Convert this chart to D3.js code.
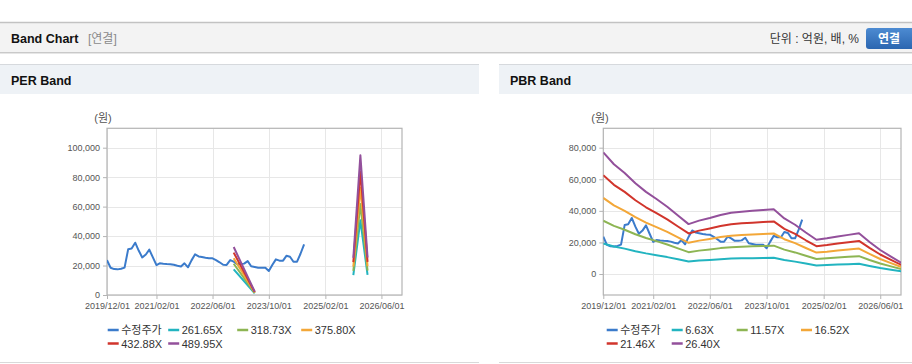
<!DOCTYPE html>
<html>
<head>
<meta charset="utf-8">
<script src="https://cdn.jsdelivr.net/npm/d3@7"></script>
<style>
  body { margin: 0; background: #fff; }
  svg { display: block; font-family: "Liberation Sans", Arial, "Noto Sans CJK KR", sans-serif; }
</style>
</head>
<body>
<div id="chart"></div>
<script>
// ---- data ----
const xTickLabels = ["2019/12/01", "2021/02/01", "2022/06/01", "2023/10/01", "2025/02/01", "2026/06/01"];

// monthly adjusted price (수정주가), 2019/12 .. 2024/08
const priceStart = "2019/12/01";
const priceValues = [23700, 18500, 17600, 17400, 17800, 18600, 31000, 31500, 35500, 30000,
  25500, 27500, 30800, 25500, 20300, 21500, 21200, 21000, 20900, 20500,
  19800, 19300, 21500, 18800, 23500, 27600, 26200, 25800, 25300, 25000,
  24900, 23700, 22200, 20500, 20400, 23700, 22600, 21000, 21000, 21300,
  23000, 19500, 19000, 18500, 18500, 18500, 16300, 20500, 24200, 23300,
  23300, 26600, 26000, 22600, 22600, 28000, 34400];

// PER band: EPS (null = no band)
const epsDates = ["2022/12/01", "2023/06/01", "2024/08/01", "2025/10/01", "2025/12/01", "2026/02/01"];
const epsValues = [66.5, 4.6, null, 51.5, 193.7, 52];
const perMultiples = [261.65, 318.73, 375.80, 432.88, 489.95];

// PBR band: quarterly BPS, 2019/12 .. 2026/12
const bpsValues = [2917, 2633, 2424, 2178, 1970, 1799, 1614, 1402, 1197, 1280,
  1345, 1417, 1470, 1496, 1515, 1538, 1553, 1333, 1182, 996,
  822, 856, 902, 939, 977, 769, 576, 417, 265];
const pbrMultiples = [6.63, 11.57, 16.52, 21.46, 26.40];

const perTicks = [0, 20000, 40000, 60000, 80000, 100000];
const pbrTicks = [0, 20000, 40000, 60000, 80000];

const priceColor = "#3b7bcb";
const bandColors = ["#22b4c0", "#8db553", "#f3a738", "#d1352c", "#93509b"];

// ---- setup ----
const parse = d3.timeParse("%Y/%m/%d");
const W = 912, H = 364;
const svg = d3.select("#chart").append("svg").attr("width", W).attr("height", H);

const priceDates = d3.timeMonth.range(parse(priceStart), d3.timeMonth.offset(parse(priceStart), priceValues.length));
const bpsDates = d3.timeMonth.range(parse(priceStart), d3.timeMonth.offset(parse(priceStart), bpsValues.length * 3), 3);
const xTicks = xTickLabels.map(parse);

// ---- page header ----
const defs = svg.append("defs");
const grad = defs.append("linearGradient").attr("id", "btn").attr("x1", 0).attr("y1", 0).attr("x2", 0).attr("y2", 1);
grad.append("stop").attr("offset", "0%").attr("stop-color", "#4d8bd2");
grad.append("stop").attr("offset", "100%").attr("stop-color", "#2b66b0");

svg.append("rect").attr("x", 0).attr("y", 22).attr("width", W).attr("height", 31).attr("fill", "#f3f3f3");
svg.append("line").attr("x1", 0).attr("x2", W).attr("y1", 22.5).attr("y2", 22.5).attr("stroke", "#c2c2c2").attr("stroke-width", 1.5);
svg.append("line").attr("x1", 0).attr("x2", W).attr("y1", 52.5).attr("y2", 52.5).attr("stroke", "#c9c9c9");
svg.append("line").attr("x1", 0).attr("x2", W).attr("y1", 53.5).attr("y2", 53.5).attr("stroke", "#e6e6e6");

svg.append("text").attr("x", 11).attr("y", 42.5).attr("font-size", "12.5px").attr("font-weight", "bold").attr("fill", "#111").text("Band Chart");
svg.append("text").attr("x", 88).attr("y", 42.5).attr("font-size", "12px").attr("fill", "#8a8a8a").text("[연결]");
svg.append("text").attr("x", 859).attr("y", 42.5).attr("font-size", "12px").attr("fill", "#333").attr("text-anchor", "end").text("단위 : 억원, 배, %");
svg.append("rect").attr("x", 866).attr("y", 28).attr("width", 52).attr("height", 21).attr("rx", 3).attr("fill", "url(#btn)");
svg.append("text").attr("x", 889).attr("y", 42.5).attr("font-size", "12px").attr("font-weight", "bold").attr("fill", "#fff").attr("text-anchor", "middle").text("연결");

// ---- panels ----
const panels = [
  { x: 0, w: 479, title: "PER Band" },
  { x: 499, w: 413, title: "PBR Band" }
];
panels.forEach(p => {
  svg.append("rect").attr("x", p.x).attr("y", 64).attr("width", p.w).attr("height", 30).attr("fill", "#eef2f6");
  svg.append("line").attr("x1", p.x).attr("x2", p.x + p.w).attr("y1", 64.5).attr("y2", 64.5).attr("stroke", "#d6d9dd");
  svg.append("line").attr("x1", p.x).attr("x2", p.x + p.w).attr("y1", 362.5).attr("y2", 362.5).attr("stroke", "#d9d9d9");
  svg.append("text").attr("x", p.x + 11).attr("y", 84.5).attr("font-size", "12.5px").attr("font-weight", "bold").attr("fill", "#111").text(p.title);
});

// ---- chart ----
function drawChart(cfg) {
  const x = d3.scaleTime().domain([parse("2019/12/01"), parse("2026/11/26")]).range([cfg.left, cfg.right]);
  const y = d3.scaleLinear().domain(cfg.yDomain).range([295, 128.3]);
  const g = svg.append("g");

  const clipId = "clip" + cfg.id;
  defs.append("clipPath").attr("id", clipId).append("rect")
    .attr("x", cfg.left).attr("y", 128.3).attr("width", cfg.right - cfg.left).attr("height", 295 - 128.3);

  // grid
  g.selectAll(".hg").data(cfg.yTicks).join("line")
    .attr("x1", cfg.left).attr("x2", cfg.right)
    .attr("y1", d => Math.round(y(d)) + 0.5).attr("y2", d => Math.round(y(d)) + 0.5)
    .attr("stroke", "#e7e7e7");
  g.selectAll(".vg").data(xTicks).join("line")
    .attr("x1", d => Math.round(x(d)) + 0.5).attr("x2", d => Math.round(x(d)) + 0.5)
    .attr("y1", 128.3).attr("y2", 295)
    .attr("stroke", "#e7e7e7");

  // axes
  const yAxis = g.append("g").attr("transform", `translate(${cfg.left},0)`)
    .call(d3.axisLeft(y).tickValues(cfg.yTicks).tickSize(4).tickPadding(3).tickFormat(d3.format(",")));
  const xAxis = g.append("g").attr("transform", "translate(0,295)")
    .call(d3.axisBottom(x).tickValues(xTicks).tickSize(4).tickPadding(4).tickFormat(d3.timeFormat("%Y/%m/%d")));
  [xAxis, yAxis].forEach(a => {
    a.select(".domain").remove();
    a.selectAll("line").attr("stroke", "#b4b4b4");
    a.selectAll("text").attr("fill", "#555").attr("font-size", "9px").attr("font-family", "Liberation Sans, Arial, sans-serif");
  });

  // frame
  g.append("rect").attr("x", cfg.left).attr("y", 128.3).attr("width", cfg.right - cfg.left).attr("height", 295 - 128.3)
    .attr("fill", "none").attr("stroke", "#b4b4b4").attr("stroke-width", 1.2);

  g.append("text").attr("x", cfg.unitX).attr("y", 122).attr("font-size", "11px").attr("fill", "#555")
    .attr("text-anchor", "middle").text("(원)");

  const plot = g.append("g").attr("clip-path", `url(#${clipId})`);
  const line = d3.line().defined(d => d[1] != null).x(d => x(d[0])).y(d => y(d[1]));

  plot.append("path").datum(priceDates.map((d, i) => [d, priceValues[i]]))
    .attr("d", line).attr("fill", "none").attr("stroke", priceColor).attr("stroke-width", 2).attr("stroke-linejoin", "round");

  cfg.multiples.forEach((m, k) => {
    plot.append("path").datum(cfg.baseDates.map((d, i) => [d, cfg.baseValues[i] == null ? null : cfg.baseValues[i] * m]))
      .attr("d", line).attr("fill", "none").attr("stroke", bandColors[k]).attr("stroke-width", 2).attr("stroke-linejoin", "round");
  });

  // legend
  const items = [{ label: "수정주가", color: priceColor }]
    .concat(cfg.multiples.map((m, k) => ({ label: m.toFixed(2) + "X", color: bandColors[k] })));
  items.forEach((it, i) => {
    const col = i % 4, row = Math.floor(i / 4);
    const lx = cfg.legendX + cfg.legendCols[col];
    const ly = 330 + row * 13.5;
    g.append("line").attr("x1", lx).attr("x2", lx + 11).attr("y1", ly).attr("y2", ly)
      .attr("stroke", it.color).attr("stroke-width", 2.5);
    g.append("text").attr("x", lx + 13.5).attr("y", ly + 4).attr("font-size", "11px").attr("fill", "#333").text(it.label);
  });
}

drawChart({
  id: "per", left: 107, right: 402, yDomain: [0, 113170], yTicks: perTicks, unitX: 103,
  baseDates: epsDates.map(parse), baseValues: epsValues, multiples: perMultiples,
  legendX: 107.7, legendCols: [0, 60.5, 129.5, 193.5]
});
drawChart({
  id: "pbr", left: 603.3, right: 901, yDomain: [-13300, 92290], yTicks: pbrTicks, unitX: 600,
  baseDates: bpsDates, baseValues: bpsValues, multiples: pbrMultiples,
  legendX: 606.7, legendCols: [0, 65, 130, 194.3]
});
</script>
</body>
</html>
